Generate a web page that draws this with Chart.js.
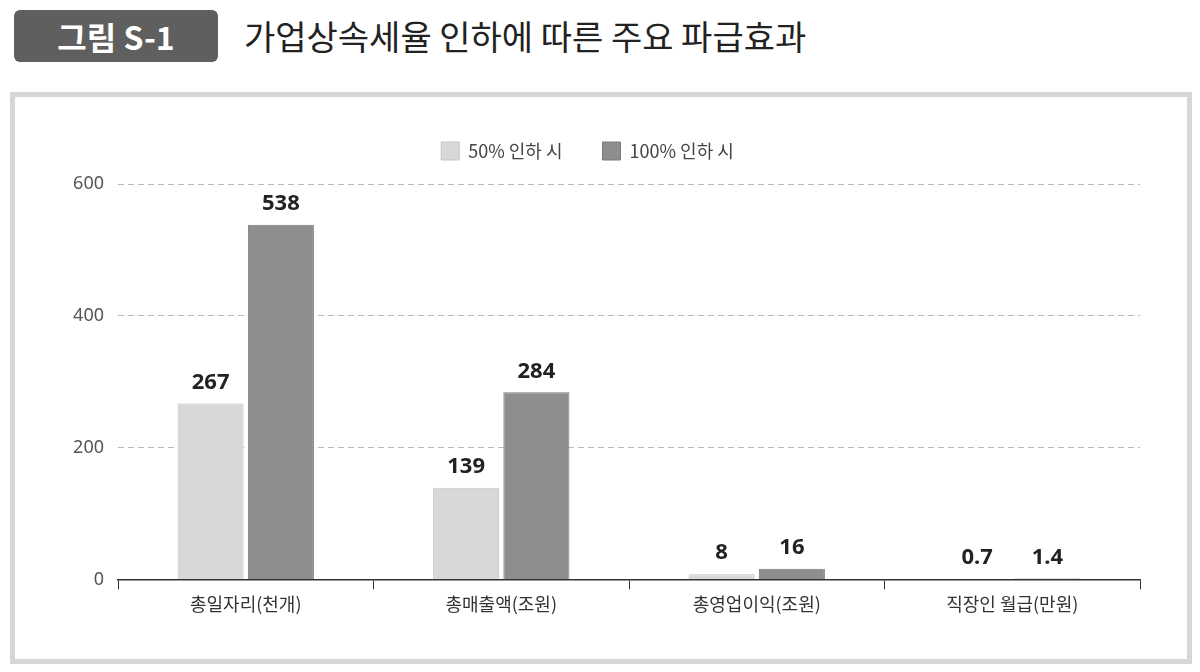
<!DOCTYPE html>
<html><head><meta charset="utf-8">
<script src="https://cdn.jsdelivr.net/npm/chart.js@4"></script>
<style>
body{margin:0;width:1200px;height:672px;background:#fff;font-family:"Noto Sans CJK KR","Noto Sans",sans-serif;position:relative;overflow:hidden}
#badge{position:absolute;left:14px;top:10px;width:204px;height:52px;background:#5f5f5f;border-radius:6px;color:#fff;font-size:32px;font-weight:bold;line-height:52px;text-align:center;font-family:"Noto Sans CJK KR",serif}
#title{position:absolute;left:244px;top:8px;font-size:34px;color:#222;line-height:56px}
#frame{position:absolute;left:10px;top:92px;width:1172px;height:562px;border:5px solid #d6d6d6}
</style></head><body>
<div id="badge">그림 S-1</div>
<div id="title">가업상속세율 인하에 따른 주요 파급효과</div>
<div id="frame"><canvas id="c" width="1172" height="562"></canvas></div>
<script>
const categories=["총일자리(천개)","총매출액(조원)","총영업이익(조원)","직장인 월급(만원)"];
const series50=[267,139,8,0.7];
const series100=[538,284,16,1.4];
const seriesNames=["50% 인하 시","100% 인하 시"];
const yTicks=[0,200,400,600];
const labelPlugin={id:'lbl',afterDatasetsDraw(chart){const ctx=chart.ctx;ctx.save();ctx.font='bold 22px "Noto Sans","Noto Sans CJK KR",sans-serif';ctx.fillStyle='#222';ctx.textAlign='center';ctx.textBaseline='bottom';
chart.data.datasets.forEach((ds,i)=>{chart.getDatasetMeta(i).data.forEach((b,j)=>{ctx.fillText(String(ds.data[j]),b.x,b.y-10);});});ctx.restore();}};
const legendMargin={id:'lm',beforeInit(chart){const f=chart.legend.fit;chart.legend.fit=function(){f.bind(this)();this.height+=14;};}};
new Chart(document.getElementById('c'),{type:'bar',
data:{labels:categories,datasets:[
{label:seriesNames[0],data:series50,backgroundColor:'#d8d8d8',borderColor:'#c4c4c4',borderWidth:1},
{label:seriesNames[1],data:series100,backgroundColor:'#8e8e8e',borderColor:'#7a7a7a',borderWidth:1}]},
options:{responsive:false,animation:false,
layout:{padding:{left:20,right:47,top:5,bottom:40}},
plugins:{legend:{labels:{boxWidth:18,boxHeight:18,font:{size:18,family:'"Noto Sans CJK KR"'},color:'#444',padding:40}},tooltip:{enabled:false}},
datasets:{bar:{categoryPercentage:0.55,barPercentage:0.94}},
scales:{
x:{grid:{offset:true,drawOnChartArea:false,color:'#333',tickLength:10,tickColor:'#333'},border:{color:'#333',width:1.5},ticks:{font:{size:18,family:'"Noto Sans CJK KR"'},color:'#333',padding:4}},
y:{min:0,max:600,afterFit(s){s.width=83;},afterBuildTicks(s){s.ticks=yTicks.map(v=>({value:v}));},border:{display:false,dash:[6,4]},grid:{color:'#bbb',drawTicks:false},ticks:{font:{size:18,family:'"Noto Sans"'},color:'#555',padding:14}}}},
plugins:[labelPlugin,legendMargin]});
</script></body></html>
